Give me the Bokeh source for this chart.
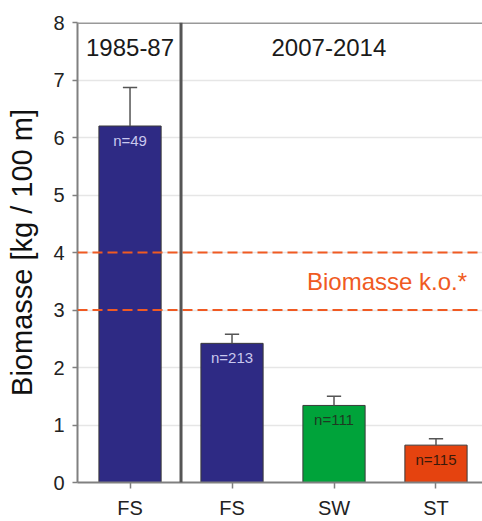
from bokeh.plotting import figure
from bokeh.models import Range1d, FixedTicker, Span, ColumnDataSource, Label
from bokeh.core.properties import value
from bokeh.embed import file_html
from bokeh.resources import INLINE

categories = ["FS", "FS", "SW", "ST"]
positions = [0, 1, 2, 3]
means = [6.20, 2.42, 1.34, 0.65]
errors_upper = [6.87, 2.58, 1.50, 0.76]
n_labels = ["n=49", "n=213", "n=111", "n=115"]
bar_colors = ["#2e2a84", "#2e2a84", "#00a33a", "#e5430f"]
n_text_colors = ["#c9c8ee", "#c9c8ee", "#1e3a22", "#3a1a0a"]
periods = ["1985-87", "2007-2014"]
period_x = [0, 1.95]
threshold_low = 3
threshold_high = 4
threshold_label = "Biomasse k.o.*"
y_ticks = [0, 1, 2, 3, 4, 5, 6, 7, 8]

FONT = "Liberation Sans"

p = figure(width=482, height=521, output_backend="svg", toolbar_location=None,
           x_range=Range1d(-0.515, 3.456), y_range=Range1d(0, 8),
           min_border_left=77, min_border_right=0, min_border_top=22, min_border_bottom=38)
p.outline_line_color = None
p.background_fill_color = "white"
p.border_fill_color = "white"

# grid
p.xgrid.grid_line_color = None
p.ygrid.grid_line_color = "#e6e6e6"
p.ygrid.grid_line_width = 1.5
p.yaxis.ticker = FixedTicker(ticks=y_ticks)
p.xaxis.ticker = FixedTicker(ticks=positions)
p.xaxis.major_label_overrides = {pos: c for pos, c in zip(positions, categories)}

for ax in (p.xaxis, p.yaxis):
    ax.axis_line_color = "#808080"
    ax.axis_line_width = 2
    ax.major_tick_line_color = "#808080"
    ax.major_tick_line_width = 1.5
    ax.minor_tick_line_color = None
    ax.major_label_text_font = FONT
    ax.major_label_text_font_size = "20px"
    ax.major_label_text_color = "#222222"
p.yaxis.major_tick_in = 0
p.yaxis.major_tick_out = 5
p.xaxis.major_tick_in = 0
p.xaxis.major_tick_out = 6
p.yaxis.major_label_standoff = 8
p.xaxis.major_label_standoff = 8
p.yaxis.axis_label = "Biomasse [kg / 100 m]"
p.yaxis.axis_label_text_font = FONT
p.yaxis.axis_label_text_font_size = "29px"
p.yaxis.axis_label_text_font_style = "normal"
p.yaxis.axis_label_text_color = "#111111"
p.yaxis.axis_label_standoff = 12

src = ColumnDataSource(dict(x=positions, top=means, up=errors_upper, color=bar_colors,
                            lab=n_labels, lc=n_text_colors,
                            xl=[x - 0.07 for x in positions], xr=[x + 0.07 for x in positions]))

p.vbar(x="x", top="top", bottom=0, width=0.61, fill_color="color",
       line_color="#3a3a3a", line_width=1, source=src)

# error bars (upper only)
p.segment(x0="x", y0="top", x1="x", y1="up", line_color="#555555", line_width=1.5, source=src)
p.segment(x0="xl", y0="up", x1="xr", y1="up", line_color="#555555", line_width=1.5, source=src)

p.text(x="x", y="top", text="lab", text_color="lc", text_align="center",
       text_baseline="middle", y_offset=14, text_font=value(FONT),
       text_font_size="15px", source=src)

# threshold lines
for yv in (threshold_low, threshold_high):
    p.add_layout(Span(location=yv, dimension="width", line_color="#f05a22",
                      line_width=2, line_dash="10 5"))
p.add_layout(Label(x=2.52, y=(threshold_low + threshold_high) / 2, text=threshold_label,
                   text_color="#f05a22", text_font=FONT, text_font_size="24px",
                   text_align="center", text_baseline="middle"))

# top border and period separator
p.add_layout(Span(location=8, dimension="width", line_color="#999999", line_width=3))
p.add_layout(Span(location=0.5, dimension="height", line_color="#555555", line_width=3))

for t, xv in zip(periods, period_x):
    p.add_layout(Label(x=xv, y=7.57, text=t, text_color="#1a1a1a", text_font=FONT,
                       text_font_size="24px", text_align="center", text_baseline="middle"))

open("out.html", "w").write(file_html(p, INLINE))
